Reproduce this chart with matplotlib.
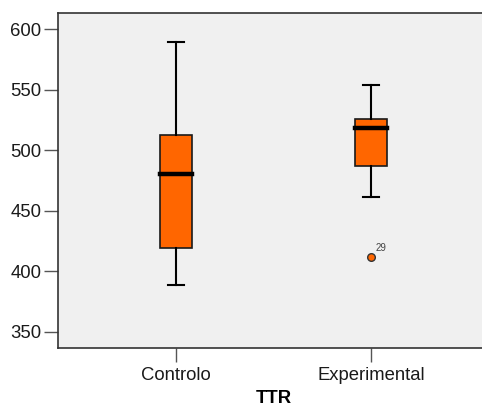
import matplotlib
matplotlib.use("Agg")
import matplotlib.pyplot as plt

groups = ["Controlo", "Experimental"]
whislo = [388.4, 461.6]
q1 = [418.9, 486.8]
med = [480.6, 518.7]
q3 = [512.4, 526.1]
whishi = [589.7, 554.2]
fliers = [[], [411.7]]
flier_labels = [[], ["29"]]

plt.rcParams["font.family"] = ["Liberation Sans", "DejaVu Sans"]

fig = plt.figure(figsize=(4.82, 4.09), dpi=100)
ax = fig.add_axes([58 / 482, 61 / 409, 431 / 482, 334.7 / 409])
ax.set_facecolor("#f0f0f0")

stats = [dict(label=g, whislo=lo, q1=a, med=m, q3=b, whishi=hi, fliers=f)
         for g, lo, a, m, b, hi, f in zip(groups, whislo, q1, med, q3, whishi, fliers)]
ax.bxp(stats, positions=[1, 2], widths=0.163, patch_artist=True,
       boxprops=dict(facecolor="#ff6600", edgecolor="#1a1a1a", lw=1.2),
       medianprops=dict(color="black", lw=3.2, solid_capstyle="projecting"),
       whiskerprops=dict(color="black", lw=1.5),
       capprops=dict(color="black", lw=1.5),
       flierprops=dict(marker="o", markerfacecolor="#ff6600", markeredgecolor="#333333",
                       markersize=5.5, markeredgewidth=1.0),
       capwidths=0.085)

for i, (vals, labs) in enumerate(zip(fliers, flier_labels)):
    for v, lab in zip(vals, labs):
        ax.annotate(lab, (i + 1, v), xytext=(3.5, 4), textcoords="offset points",
                    fontsize=7, color="#444444")

ax.set_xlim(0.395, 2.605)
ax.set_ylim(336.5, 613.2)
ax.set_yticks([350, 400, 450, 500, 550, 600])
ax.set_xticks([1, 2])
ax.set_xticklabels(groups)
ax.tick_params(axis="both", labelsize=13.3, length=10, width=1, color="#555555",
               labelcolor="#1a1a1a", pad=2)
ax.tick_params(axis="x", pad=4)
for s in ax.spines.values():
    s.set_color("#333333")
    s.set_linewidth(1.2)
ax.set_xlabel("TTR", fontsize=13.3, fontweight="bold", labelpad=4)

fig.savefig("out.png", dpi=100)
